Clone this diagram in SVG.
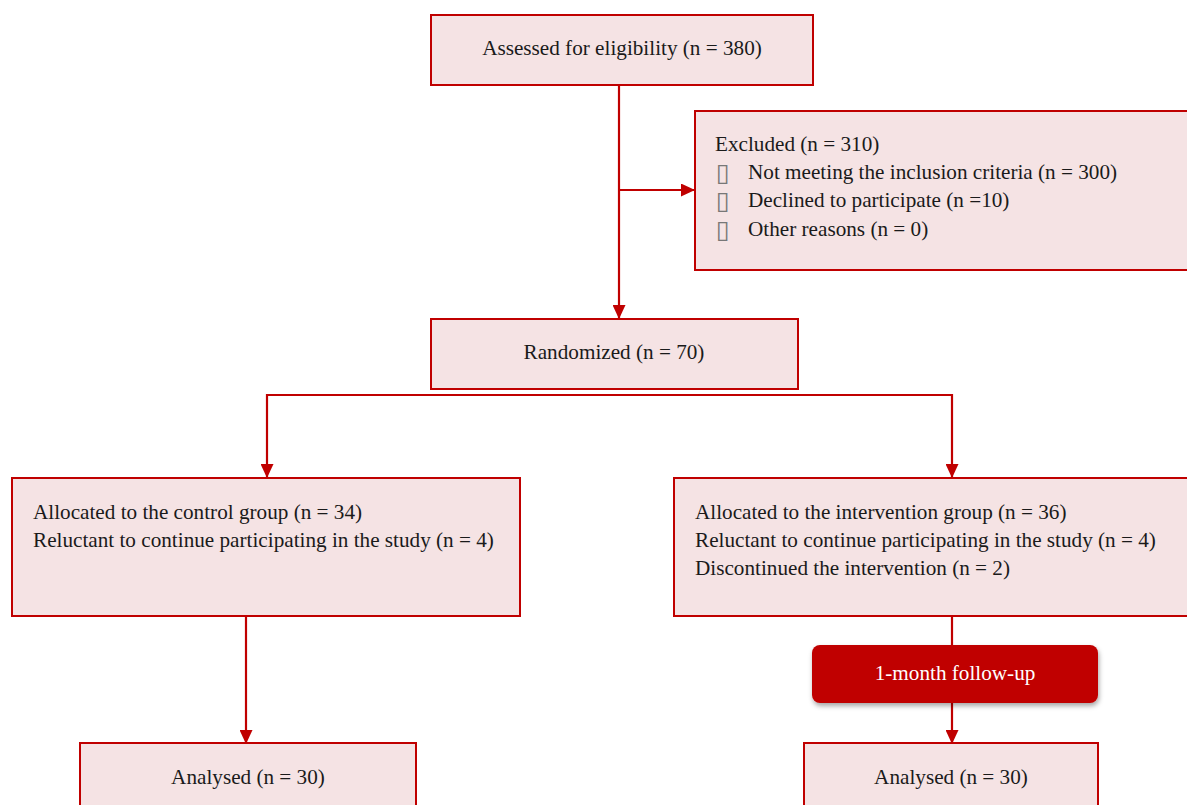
<svg xmlns="http://www.w3.org/2000/svg" width="1187" height="805" viewBox="0 0 1187 805">
<style>
.box{fill:#F5E3E4;stroke:#C00000;stroke-width:2}
.t{font-family:"Liberation Serif","Times New Roman",serif;font-size:21.2px;fill:#1a1a1a}
.c{text-anchor:middle}
.b{font-family:"DejaVu Sans",sans-serif;font-size:25px;fill:#777}
.ln{fill:none;stroke:#C00000;stroke-width:2.2}
</style>
<defs>
<marker id="ah" viewBox="0 0 14 13" refX="13" refY="6.5" markerWidth="14" markerHeight="13" markerUnits="userSpaceOnUse" orient="auto">
<path d="M0,0 L14,6.5 L0,13 z" fill="#C00000"/>
</marker>
<filter id="sh" x="-10%" y="-20%" width="130%" height="160%">
<feDropShadow dx="1" dy="3" stdDeviation="2.5" flood-color="#000" flood-opacity="0.35"/>
</filter>
</defs>
<g id="connectors">
<path class="ln" d="M619,85 V318" marker-end="url(#ah)"/>
<path class="ln" d="M619,190 H694" marker-end="url(#ah)"/>
<path class="ln" d="M267,395 H952"/>
<path class="ln" d="M267,394 V477" marker-end="url(#ah)"/>
<path class="ln" d="M952,394 V477" marker-end="url(#ah)"/>
<path class="ln" d="M246,616 V743" marker-end="url(#ah)"/>
<path class="ln" d="M952,616 V646"/>
<path class="ln" d="M952,703 V743" marker-end="url(#ah)"/>
</g>
<g id="assessed">
<rect class="box" x="431" y="15" width="382" height="70"/>
<text class="t c" x="622" y="55">Assessed for eligibility (n = 380)</text>
</g>
<g id="excluded">
<rect class="box" x="695" y="111" width="500" height="159"/>
<text class="t" x="715" y="151">Excluded (n = 310)</text>
<text class="b" x="716" y="181">▯</text>
<text class="t" x="748" y="179">Not meeting the inclusion criteria (n = 300)</text>
<text class="b" x="716" y="209">▯</text>
<text class="t" x="748" y="207">Declined to participate (n =10)</text>
<text class="b" x="716" y="238">▯</text>
<text class="t" x="748" y="236">Other reasons (n = 0)</text>
</g>
<g id="randomized">
<rect class="box" x="431" y="319" width="367" height="70"/>
<text class="t c" x="614" y="359">Randomized (n = 70)</text>
</g>
<g id="control">
<rect class="box" x="12" y="478" width="508" height="138"/>
<text class="t" x="33" y="519">Allocated to the control group (n = 34)</text>
<text class="t" x="33" y="547">Reluctant to continue participating in the study (n = 4)</text>
</g>
<g id="intervention">
<rect class="box" x="674" y="478" width="520" height="138"/>
<text class="t" x="695" y="519">Allocated to the intervention group (n = 36)</text>
<text class="t" x="695" y="547">Reluctant to continue participating in the study (n = 4)</text>
<text class="t" x="695" y="575">Discontinued the intervention (n = 2)</text>
</g>
<g id="followup">
<rect x="812" y="645" width="286" height="58" rx="8" fill="#C00000" filter="url(#sh)"/>
<text class="t c" x="955" y="680" style="fill:#fff">1-month follow-up</text>
</g>
<g id="analysed-control">
<rect class="box" x="80" y="743" width="336" height="70"/>
<text class="t c" x="248" y="784">Analysed (n = 30)</text>
</g>
<g id="analysed-intervention">
<rect class="box" x="804" y="743" width="294" height="70"/>
<text class="t c" x="951" y="784">Analysed (n = 30)</text>
</g>
</svg>
